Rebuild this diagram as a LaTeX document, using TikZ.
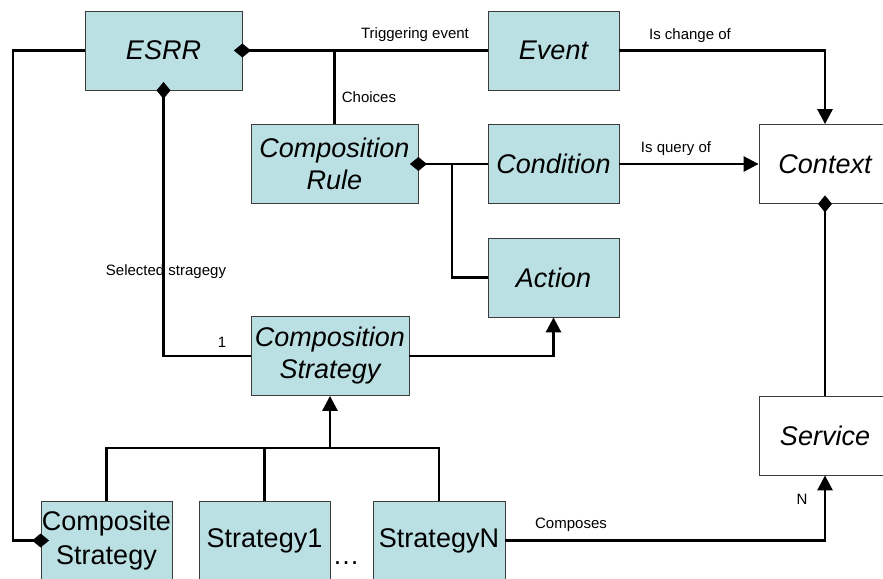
\documentclass[tikz,border=0pt]{standalone}
\usepackage{fontspec}
\setmainfont{Liberation Sans}
\usetikzlibrary{arrows.meta,positioning}
\definecolor{classfill}{RGB}{187,224,227}
\definecolor{classline}{RGB}{60,60,60}

\tikzset{
  cls/.style={draw=classline, fill=classfill, line width=0.8pt, minimum height=79pt, inner sep=0pt, align=center, font=\fontsize{27}{32}\selectfont\itshape},
  leafbox/.style={cls, font=\fontsize{27}{34}\selectfont},
  extbox/.style={cls, fill=white},
  lbl/.style={font=\fontsize{15}{18}\selectfont, inner sep=0pt},
  link/.style={line width=2.8pt},
  owns/.style={link, {Diamond[length=17pt,width=14pt]}-, shorten <=-8.5pt},
  ownedby/.style={link, -{Diamond[length=17pt,width=14pt]}, shorten >=-8.5pt},
  isa/.style={link, -{Triangle[length=15pt,width=15pt]}}
}

\begin{document}
\begin{tikzpicture}[x=1pt, y=-1pt]
            \useasboundingbox (0,0) rectangle (883,578);
            \clip (0,0) rectangle (883,578);

            % classes
            \node[cls, minimum width=157pt] (esrr) at (163.5,50.5) {ESRR};
            \node[cls, minimum width=131pt] (event) at (553.5,50.5) {Event};
            \node[cls, minimum width=167pt] (rule) at (334.5,164) {Composition\\Rule};
            \node[cls, minimum width=131pt] (cond) at (553.5,164) {Condition};
            \node[cls, minimum width=131pt] (action) at (553.5,277.5) {Action};
            \node[extbox, minimum width=132pt] (ctx) at (825,164) {Context};
            \node[extbox, minimum width=132pt] (svc) at (825,435.5) {Service};
            \node[cls, minimum width=158pt] (cstrat) at (330,356) {Composition\\Strategy};
            \node[leafbox, minimum width=131pt] (compo) at (106.5,540.5) {Composite\\Strategy};
            \node[leafbox, minimum width=131pt] (strat1) at (264.5,540.5) {Strategy1};
            \node[leafbox, minimum width=132pt] (stratn) at (439,540.5) {StrategyN};
            \node[leafbox, draw=none, fill=none, minimum height=0pt, anchor=base] (dots) at (346,564) {…};

            \coordinate (lft) at (13,50.5);
            \coordinate (fork) at (452,164);
            \coordinate (bus) at (330,448);

            % connectors
            \draw[ownedby] (esrr.west) -- (lft) |- (compo.west);
            \draw[owns] (esrr.east) -- (event.west);
            \draw[link] (esrr.east -| rule.north) -- (rule.north);
            \draw[owns] (esrr.south) |- (cstrat.west);
            \draw[owns] (rule.east) -- (cond.west);
            \draw[link] (fork) |- (action.west);
            \draw[isa] (cond.east) -- (ctx.west);
            \draw[isa] (event.east) -| (ctx.north);
            \draw[owns] (ctx.south) -- (svc.north);
            \draw[isa] (stratn.east) -| (svc.south);
            \draw[isa] (cstrat.east) -| (action.south);
            \draw[link] (compo.north) |- (bus);
            \draw[link] (strat1.north) |- (bus);
            \draw[link] (stratn.north) |- (bus);
            \draw[isa] (bus) -- (cstrat.south);

            % labels
            \node[lbl] (trigLbl) at (415,35) {Triggering event};
            \node[lbl] (changeLbl) at (690,36) {Is change of};
            \node[lbl] (choiceLbl) at (369,97) {Choices};
            \node[lbl] (queryLbl) at (676,149) {Is query of};
            \node[lbl] (selLbl) at (166,272) {Selected stragegy};
            \node[lbl] (oneLbl) at (222,342) {1};
            \node[lbl] (nLbl) at (802,499) {N};
            \node[lbl] (compLbl) at (571,525) {Composes};
        \end{tikzpicture}
\end{document}
